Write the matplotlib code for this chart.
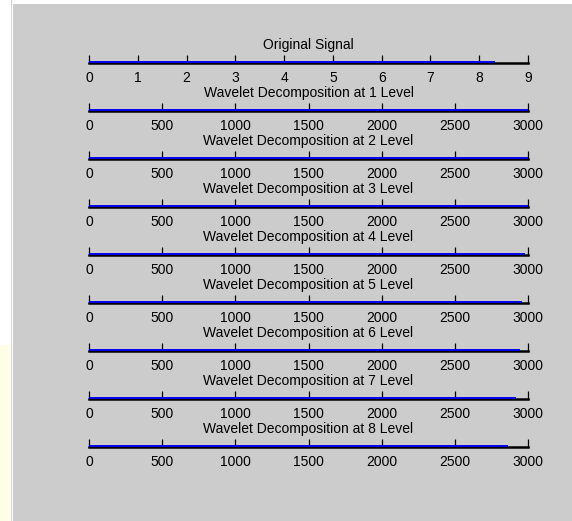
import matplotlib.pyplot as plt
from matplotlib.patches import Rectangle
from matplotlib import font_manager

# data
titles = ["Original Signal"] + [f"Wavelet Decomposition at {k} Level" for k in range(1, 9)]
orig_ticks = [0, 1, 2, 3, 4, 5, 6, 7, 8, 9]
orig_end = 8.33
level_ticks = [0, 500, 1000, 1500, 2000, 2500, 3000]
level_ends = [3000, 3000, 3000, 2980, 2960, 2945, 2918, 2864]

W, H = 572, 521
names = {f.name for f in font_manager.fontManager.ttflist}
family = "Liberation Sans Narrow" if "Liberation Sans Narrow" in names else "Liberation Sans"
plt.rcParams["font.family"] = [family, "DejaVu Sans"]
fsize = 11 if family.endswith("Narrow") else 10

fig = plt.figure(figsize=(W / 100, H / 100), dpi=100)
fig.patch.set_facecolor("white")

# window-ish background: white strip on the left, grey figure area
fig.add_artist(Rectangle((0, 0), 10 / W, 1 - 345 / H, transform=fig.transFigure,
                         facecolor="#fffde6", edgecolor="none", zorder=-3))
fig.add_artist(Rectangle((10.5 / W, 0), 1.5 / W, 1, transform=fig.transFigure,
                         facecolor="#d8d4cc", edgecolor="none", zorder=-2))
fig.add_artist(Rectangle((13 / W, 0), 1, 1 - 4 / H, transform=fig.transFigure,
                         facecolor="#cccccc", edgecolor="none", zorder=-2))

left, right = 89, 528
ends = [orig_end] + level_ends
for i, title in enumerate(titles):
    yc = 62 + 48 * i
    ax = fig.add_axes([left / W, 1 - (yc + 1) / H, (right - left) / W, 1 / H])
    ax.set_facecolor("none")
    if i == 0:
        ax.set_xlim(0, 9)
        ax.set_xticks(orig_ticks)
    else:
        ax.set_xlim(0, 3000)
        ax.set_xticks(level_ticks)
    ax.set_ylim(-1, 1)
    ax.set_yticks([])
    ax.plot([0, ends[i]], [1.2, 1.2], color="#0000f0", linewidth=1.4, clip_on=False,
            solid_capstyle="butt", zorder=3)
    for name, s in ax.spines.items():
        s.set_visible(name == "bottom")
    ax.spines["bottom"].set_color("black")
    ax.spines["bottom"].set_linewidth(1.8)
    ax.tick_params(axis="x", direction="in", length=6, width=0.9, pad=6,
                   labelsize=fsize, colors="black")
    ax.set_title(title, fontsize=fsize, pad=9)

fig.savefig("out.png", dpi=100)
